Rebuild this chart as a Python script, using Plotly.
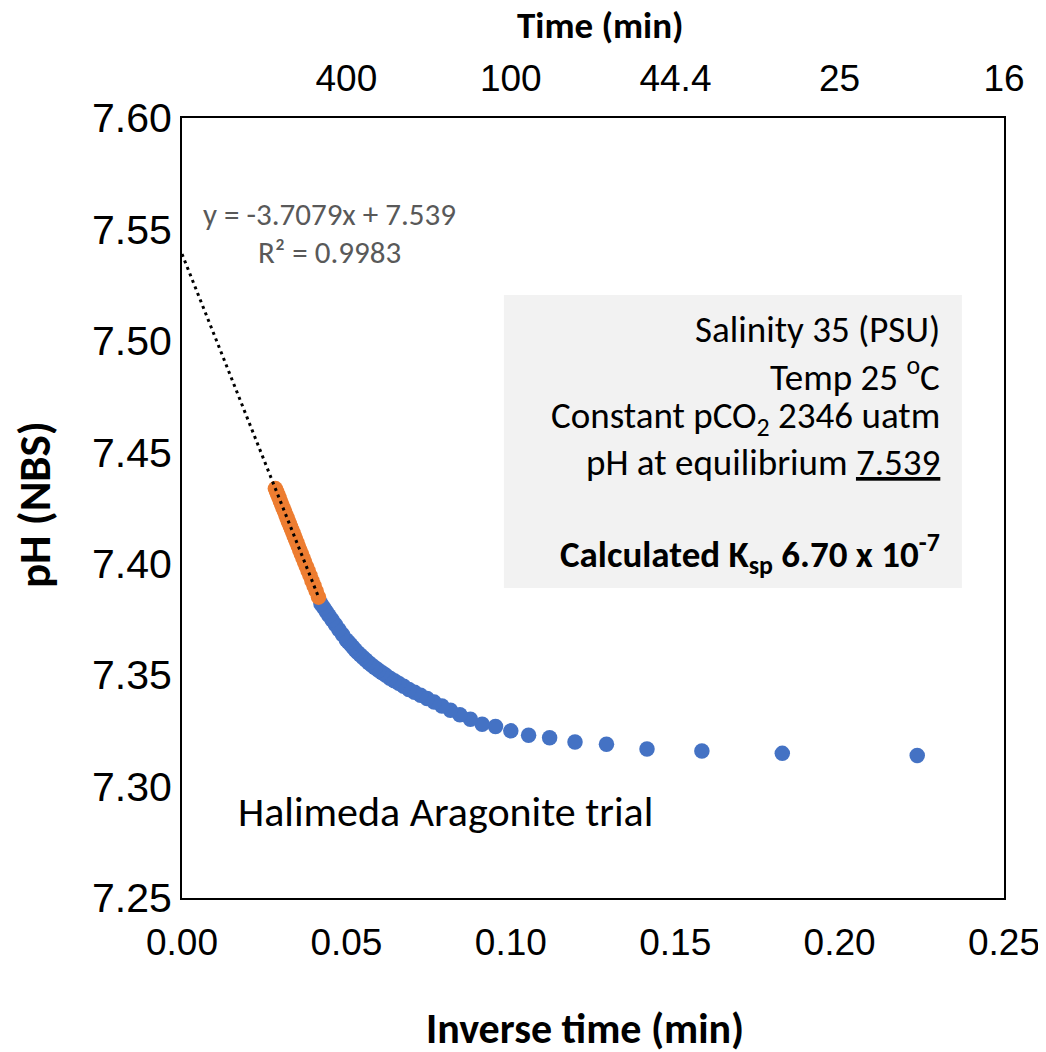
import numpy as np
import plotly.graph_objects as go

# ---------------- data ----------------
time_blue = [20, 30, 40, 50, 60, 70, 80, 90, 100, 110, 120, 130, 140, 150, 160, 170,
             180, 190, 200, 210, 220, 230, 240, 250, 260, 270, 280, 290, 300, 310,
             320, 330, 340, 350, 360, 370, 380, 390, 400, 420, 440, 460, 480, 500,
             520, 540, 560]
ph_blue = [7.3139, 7.3149, 7.3160, 7.3169, 7.3190, 7.3200, 7.3219, 7.3230, 7.3250,
           7.3270, 7.3280, 7.3302, 7.3322, 7.3342, 7.3362, 7.3379, 7.3395, 7.3410,
           7.3423, 7.3436, 7.3450, 7.3463, 7.3475, 7.3486, 7.3499, 7.3511, 7.3522,
           7.3533, 7.3544, 7.3556, 7.3568, 7.3579, 7.3590, 7.3601, 7.3613, 7.3625,
           7.3637, 7.3648, 7.3658, 7.3682, 7.3705, 7.3727, 7.3748, 7.3767, 7.3786,
           7.3804, 7.3820]

time_orange = [580, 600, 620, 640, 660, 680, 700, 720, 740, 760, 780, 800, 820, 840,
               860, 880, 900, 920, 940, 960, 980, 1000, 1030, 1060, 1090, 1120, 1150,
               1180, 1210, 1240]
ph_orange = [7.3850, 7.3877, 7.3901, 7.3924, 7.3947, 7.3968, 7.3988, 7.4008, 7.4027,
             7.4045, 7.4062, 7.4079, 7.4095, 7.4111, 7.4126, 7.4140, 7.4154, 7.4167,
             7.4180, 7.4193, 7.4206, 7.4218, 7.4235, 7.4251, 7.4267, 7.4282, 7.4297,
             7.4311, 7.4324, 7.4337]

fit_slope = -3.7079
fit_intercept = 7.539
fit_r2 = 0.9983

x_ticks = [0.00, 0.05, 0.10, 0.15, 0.20, 0.25]
y_ticks = [7.25, 7.30, 7.35, 7.40, 7.45, 7.50, 7.55, 7.60]
top_tick_times = [400, 100, 44.4, 25, 16]
top_tick_labels = ["400", "100", "44.4", "25", "16"]

info_lines = [
    "Salinity 35 (PSU)",
    "Temp 25 <sup>o</sup>C",
    "Constant pCO<sub>2</sub> 2346 uatm",
    "pH at equilibrium <u>7.539</u>",
    "<b>Calculated K<sub>sp</sub> 6.70 x 10<sup>-7</sup></b>",
]

# ---------------- derived ----------------
inv_blue = [1 / np.sqrt(t) for t in time_blue]
inv_orange = [1 / np.sqrt(t) for t in time_orange]
top_tick_vals = [1 / np.sqrt(t) for t in top_tick_times]
fit_x = [0.0, max(inv_orange)]
fit_y = [fit_intercept + fit_slope * v for v in fit_x]

ARIAL = "Liberation Sans, Arial, sans-serif"
CALIBRI = "Carlito, Lato, sans-serif"

fig = go.Figure()
fig.add_trace(go.Scatter(x=inv_blue, y=ph_blue, mode="markers",
                         marker=dict(color="#4472C4", size=15.5, line=dict(width=0)),
                         showlegend=False, hoverinfo="skip"))
fig.add_trace(go.Scatter(x=inv_orange, y=ph_orange, mode="markers",
                         marker=dict(color="#ED7D31", size=15.5, line=dict(width=0)),
                         showlegend=False, hoverinfo="skip"))
fig.add_trace(go.Scatter(x=fit_x, y=fit_y, mode="lines",
                         line=dict(color="black", width=3, dash="3px,4px"),
                         showlegend=False, hoverinfo="skip"))
fig.add_trace(go.Scatter(x=[None], y=[None], xaxis="x2", mode="markers",
                         showlegend=False, hoverinfo="skip"))

# info box
fig.add_shape(type="rect", xref="x", yref="y", x0=0.0979, x1=0.2372, y0=7.3891, y1=7.5206,
              fillcolor="#F2F2F2", line=dict(width=0), layer="below")

annotations = []
info_y = [7.5049, 7.4851, 7.4654, 7.4452, 7.4048]
for txt, yy in zip(info_lines, info_y):
    annotations.append(dict(x=0.2311, y=yy, xref="x", yref="y", text=txt, showarrow=False,
                            xanchor="right", yanchor="middle",
                            font=dict(family=CALIBRI, size=37, color="black")))

annotations.append(dict(x=0.045, y=7.5569, xref="x", yref="y",
                        text=f"y = {fit_slope}x + {fit_intercept}", showarrow=False,
                        xanchor="center", yanchor="middle",
                        font=dict(family=CALIBRI, size=31, color="#595959")))
annotations.append(dict(x=0.045, y=7.5399, xref="x", yref="y",
                        text=f"R² = {fit_r2}", showarrow=False,
                        xanchor="center", yanchor="middle",
                        font=dict(family=CALIBRI, size=31, color="#595959")))
annotations.append(dict(x=0.0165, y=7.2886, xref="x", yref="y",
                        text="Halimeda Aragonite trial", showarrow=False,
                        xanchor="left", yanchor="middle",
                        font=dict(family=CALIBRI, size=42, color="black")))

# axis titles
annotations.append(dict(x=0.5097, y=1.1190, xref="paper", yref="paper",
                        text="<b>Time (min)</b>", showarrow=False,
                        xanchor="center", yanchor="middle",
                        font=dict(family=CALIBRI, size=37, color="black")))
annotations.append(dict(x=0.490, y=-0.1667, xref="paper", yref="paper",
                        text="<b>Inverse time (min)</b>", showarrow=False,
                        xanchor="center", yanchor="middle",
                        font=dict(family=CALIBRI, size=42, color="black")))
annotations.append(dict(x=-0.1800, y=0.5038, xref="paper", yref="paper",
                        text="<b>pH (NBS)</b>", showarrow=False, textangle=-90,
                        xanchor="center", yanchor="middle",
                        font=dict(family=CALIBRI, size=45, color="black")))

xtickfont = dict(family=ARIAL, size=37, color="black")
ytickfont = dict(family=ARIAL, size=41, color="black")
# the page body has an 8px margin, so the figure is sized to fit the 1046x1052 window
fig.update_layout(
    width=1038, height=1044,
    margin=dict(l=174, r=42, t=110, b=154, autoexpand=False),
    paper_bgcolor="white", plot_bgcolor="white",
    showlegend=False,
    annotations=annotations,
    xaxis=dict(range=[0, 0.25], tickvals=x_ticks, tickformat=".2f",
               showline=True, linewidth=2, linecolor="black", mirror=True,
               showgrid=False, zeroline=False, ticks="", tickfont=xtickfont,
               ticklabelstandoff=11, automargin=False),
    yaxis=dict(range=[7.25, 7.60], tickvals=y_ticks, tickformat=".2f",
               showline=True, linewidth=2, linecolor="black", mirror=True,
               showgrid=False, zeroline=False, ticks="", tickfont=ytickfont,
               ticklabelstandoff=0, automargin=False),
    xaxis2=dict(range=[0, 0.25], overlaying="x", side="top", anchor="y",
                tickvals=top_tick_vals, ticktext=top_tick_labels,
                showline=False, showgrid=False, zeroline=False, ticks="",
                tickfont=xtickfont, ticklabelstandoff=19, automargin=False),
)

fig.write_html("out.html")
